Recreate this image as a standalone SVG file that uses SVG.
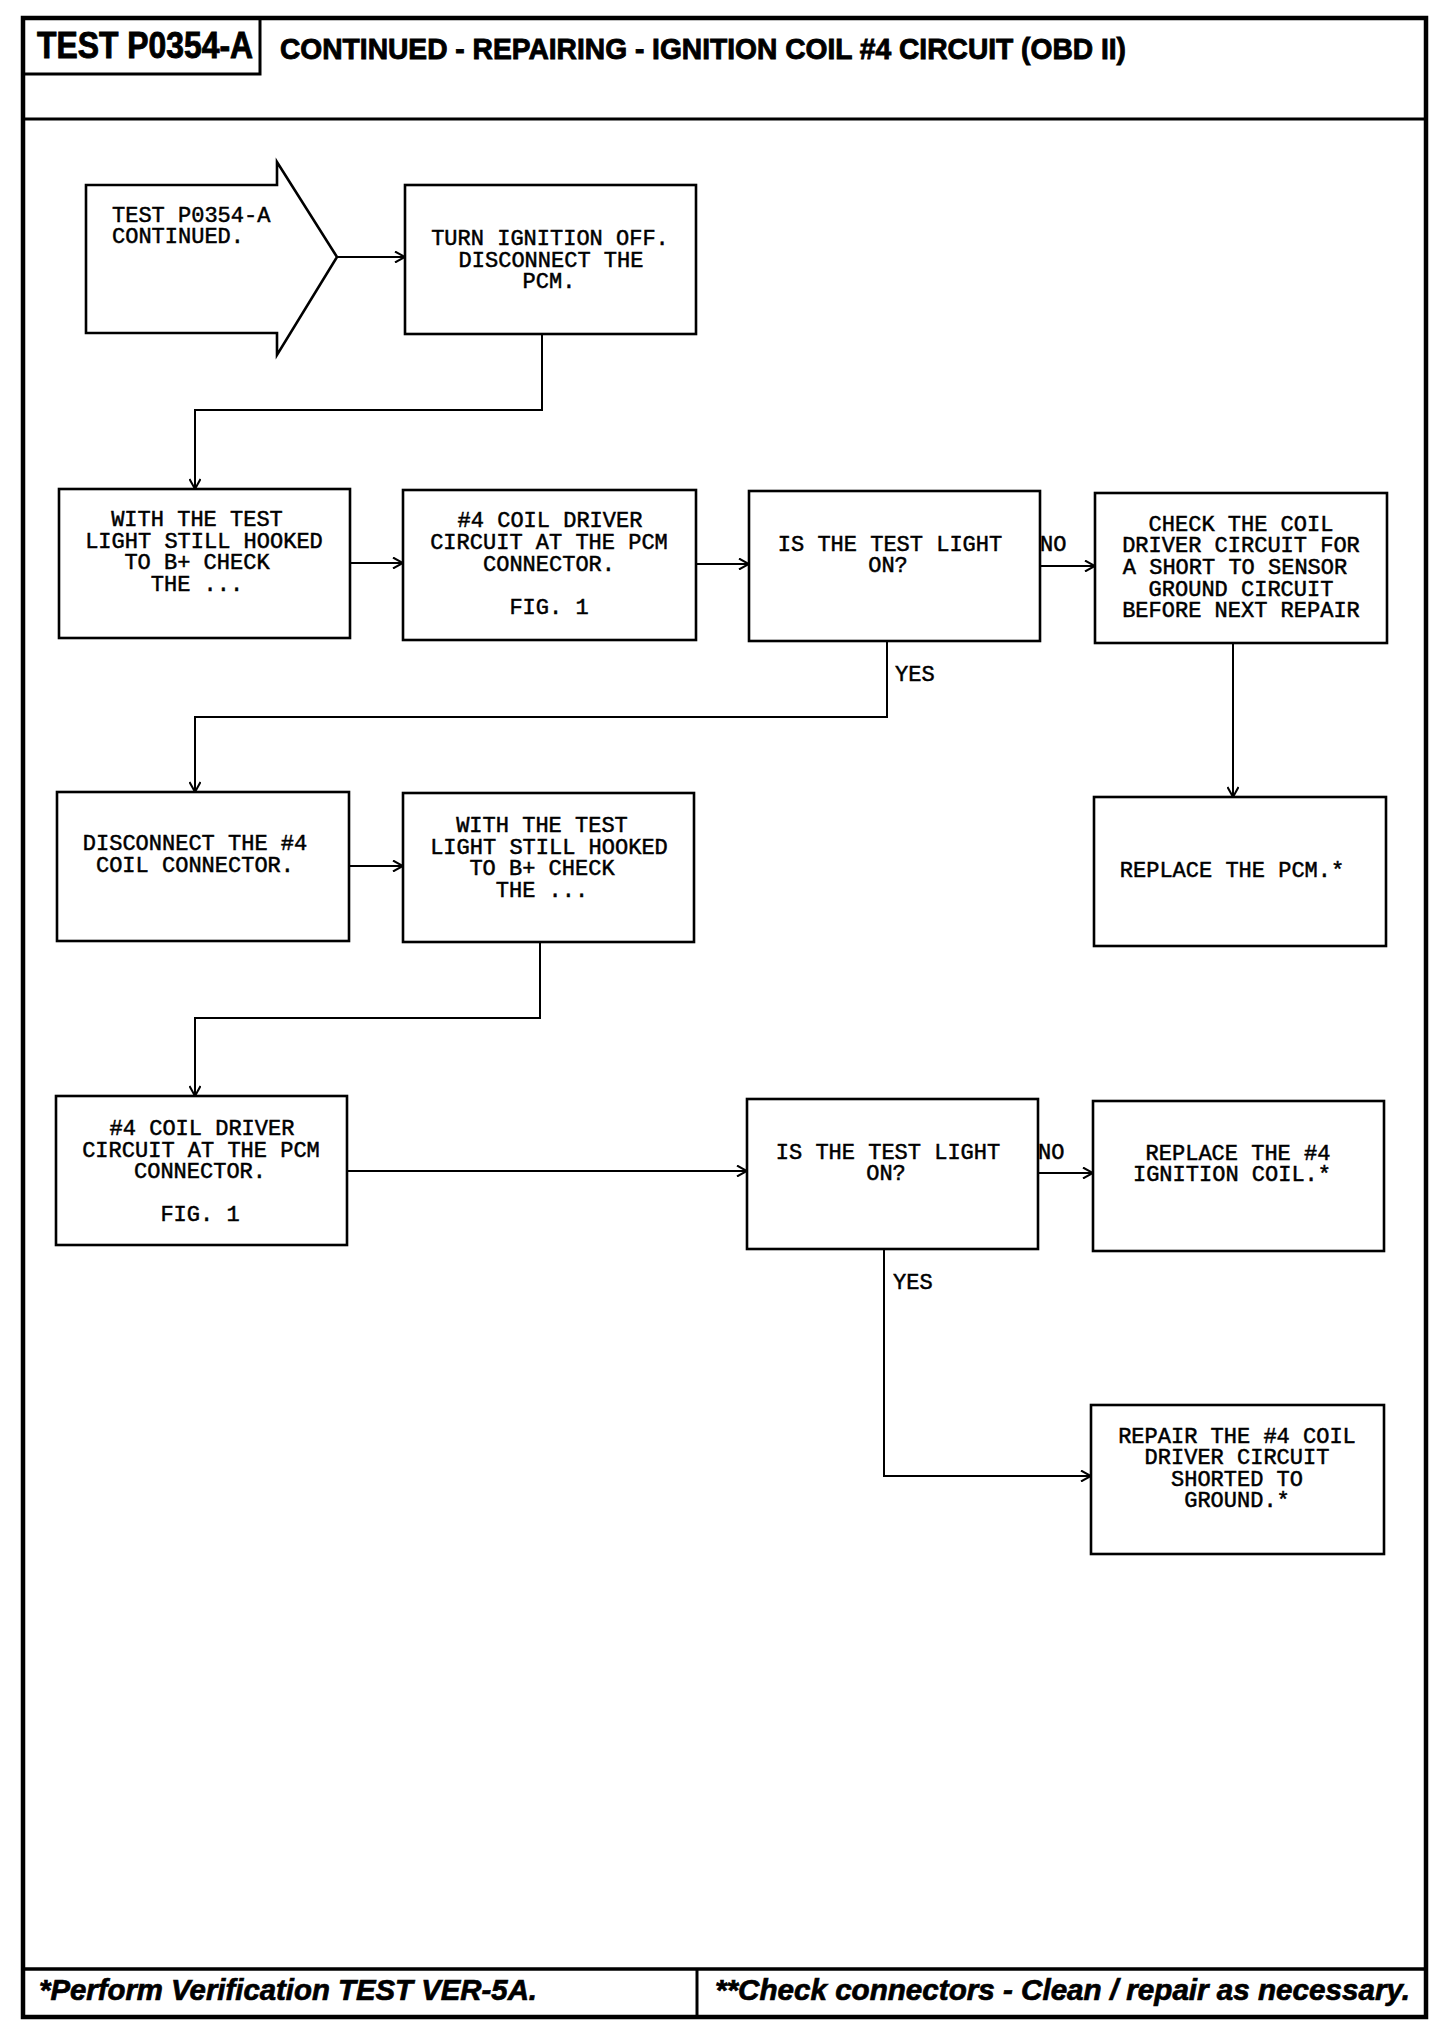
<svg xmlns="http://www.w3.org/2000/svg" width="1456" height="2036" viewBox="0 0 1456 2036">
<style>
.bx{fill:#fff;stroke:#000;stroke-width:2.6}
.t{font-family:"Liberation Mono","DejaVu Sans Mono",monospace;font-size:22px;fill:#000;stroke:#000;stroke-width:0.5}
.m{text-anchor:middle}
.cn{fill:none;stroke:#000;stroke-width:2}
.fr{fill:none;stroke:#000}
.hd{font-family:"Liberation Sans","Arial",sans-serif;font-weight:bold;fill:#000;stroke:#000;stroke-width:0.9}
.ft{font-family:"Liberation Sans","Arial",sans-serif;font-weight:bold;font-style:italic;fill:#000;stroke:#000;stroke-width:0.7;font-size:29px}
</style>
<defs>
<marker id="ah" viewBox="0 0 12 12" refX="11" refY="6" markerWidth="12" markerHeight="12" markerUnits="userSpaceOnUse" orient="auto">
<path d="M1,0.5 L11,6 L1,11.5" fill="none" stroke="#000" stroke-width="2"/>
</marker>
</defs>
<rect width="1456" height="2036" fill="#fff"/>
<g id="frame">
<rect class="fr" x="23" y="18" width="1403" height="1999" stroke-width="4.5"/>
<line class="fr" x1="23" y1="119" x2="1426" y2="119" stroke-width="3.2"/>
<rect class="fr" x="23" y="18" width="237" height="56" stroke-width="3"/>
<text class="hd" x="37" y="58" font-size="36" textLength="216" lengthAdjust="spacingAndGlyphs">TEST P0354-A</text>
<text class="hd" x="280" y="59" font-size="30" textLength="846" lengthAdjust="spacingAndGlyphs">CONTINUED - REPAIRING - IGNITION COIL #4 CIRCUIT (OBD II)</text>
<line class="fr" x1="23" y1="1969" x2="1426" y2="1969" stroke-width="3.5"/>
<line class="fr" x1="697" y1="1969" x2="697" y2="2017" stroke-width="3"/>
<text class="ft" x="39" y="2000" textLength="498" lengthAdjust="spacingAndGlyphs">*Perform Verification TEST VER-5A.</text>
<text class="ft" x="715" y="2000" textLength="695" lengthAdjust="spacingAndGlyphs">**Check connectors - Clean / repair as necessary.</text>
</g>
<g id="connectors">
<path class="cn" d="M337,257 H405" marker-end="url(#ah)"/>
<path class="cn" d="M542,334 V410 H195 V489" marker-end="url(#ah)"/>
<path class="cn" d="M350,563 H403" marker-end="url(#ah)"/>
<path class="cn" d="M696,564 H749" marker-end="url(#ah)"/>
<path class="cn" d="M1040,566 H1095" marker-end="url(#ah)"/>
<path class="cn" d="M887,641 V717 H195 V792" marker-end="url(#ah)"/>
<path class="cn" d="M1233,643 V797" marker-end="url(#ah)"/>
<path class="cn" d="M349,866 H403" marker-end="url(#ah)"/>
<path class="cn" d="M540,942 V1018 H195 V1096" marker-end="url(#ah)"/>
<path class="cn" d="M347,1171 H747" marker-end="url(#ah)"/>
<path class="cn" d="M1038,1173 H1093" marker-end="url(#ah)"/>
<path class="cn" d="M884,1249 V1476 H1091" marker-end="url(#ah)"/>
<text class="t" x="1040" y="551">NO</text>
<text class="t" x="895" y="681">YES</text>
<text class="t" x="1038" y="1159">NO</text>
<text class="t" x="893" y="1289">YES</text>
</g>
<g id="start">
<polygon class="bx" points="86,185 277,185 277,162 337,257 277,355 277,333 86,333"/>
<text class="t" x="112" y="222">TEST P0354-A</text>
<text class="t" x="112" y="243">CONTINUED.</text>
</g>
<g id="n1">
<rect class="bx" x="405" y="185" width="291" height="149"/>
<text class="t m" x="550" y="245">TURN IGNITION OFF.</text>
<text class="t m" x="551" y="267">DISCONNECT THE</text>
<text class="t m" x="549" y="288">PCM.</text>
</g>
<g id="n2">
<rect class="bx" x="59" y="489" width="291" height="149"/>
<text class="t m" x="197" y="526">WITH THE TEST</text>
<text class="t m" x="204" y="548">LIGHT STILL HOOKED</text>
<text class="t m" x="197" y="569">TO B+ CHECK</text>
<text class="t m" x="197" y="591">THE ...</text>
</g>
<g id="n3">
<rect class="bx" x="403" y="490" width="293" height="150"/>
<text class="t m" x="550" y="527">#4 COIL DRIVER</text>
<text class="t m" x="549" y="549">CIRCUIT AT THE PCM</text>
<text class="t m" x="549" y="571">CONNECTOR.</text>
<text class="t m" x="549" y="614">FIG. 1</text>
</g>
<g id="n4">
<rect class="bx" x="749" y="491" width="291" height="150"/>
<text class="t m" x="890" y="551">IS THE TEST LIGHT</text>
<text class="t m" x="888" y="572">ON?</text>
</g>
<g id="n5">
<rect class="bx" x="1095" y="493" width="292" height="150"/>
<text class="t m" x="1241" y="531">CHECK THE COIL</text>
<text class="t m" x="1241" y="552">DRIVER CIRCUIT FOR</text>
<text class="t m" x="1235" y="574">A SHORT TO SENSOR</text>
<text class="t m" x="1241" y="596">GROUND CIRCUIT</text>
<text class="t m" x="1241" y="617">BEFORE NEXT REPAIR</text>
</g>
<g id="n6">
<rect class="bx" x="1094" y="797" width="292" height="149"/>
<text class="t m" x="1232" y="877">REPLACE THE PCM.*</text>
</g>
<g id="n7">
<rect class="bx" x="57" y="792" width="292" height="149"/>
<text class="t m" x="195" y="850">DISCONNECT THE #4</text>
<text class="t m" x="195" y="872">COIL CONNECTOR.</text>
</g>
<g id="n8">
<rect class="bx" x="403" y="793" width="291" height="149"/>
<text class="t m" x="542" y="832">WITH THE TEST</text>
<text class="t m" x="549" y="854">LIGHT STILL HOOKED</text>
<text class="t m" x="542" y="875">TO B+ CHECK</text>
<text class="t m" x="542" y="897">THE ...</text>
</g>
<g id="n9">
<rect class="bx" x="56" y="1096" width="291" height="149"/>
<text class="t m" x="202" y="1135">#4 COIL DRIVER</text>
<text class="t m" x="201" y="1157">CIRCUIT AT THE PCM</text>
<text class="t m" x="200" y="1178">CONNECTOR.</text>
<text class="t m" x="200" y="1221">FIG. 1</text>
</g>
<g id="n10">
<rect class="bx" x="747" y="1099" width="291" height="150"/>
<text class="t m" x="888" y="1159">IS THE TEST LIGHT</text>
<text class="t m" x="886" y="1180">ON?</text>
</g>
<g id="n11">
<rect class="bx" x="1093" y="1101" width="291" height="150"/>
<text class="t m" x="1238" y="1160">REPLACE THE #4</text>
<text class="t m" x="1232" y="1181">IGNITION COIL.*</text>
</g>
<g id="n12">
<rect class="bx" x="1091" y="1405" width="293" height="149"/>
<text class="t m" x="1237" y="1443">REPAIR THE #4 COIL</text>
<text class="t m" x="1237" y="1464">DRIVER CIRCUIT</text>
<text class="t m" x="1237" y="1486">SHORTED TO</text>
<text class="t m" x="1237" y="1507">GROUND.*</text>
</g>
</svg>
